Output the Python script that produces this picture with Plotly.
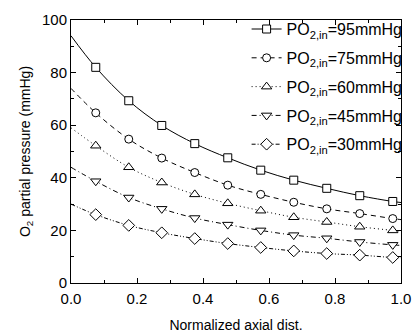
import plotly.graph_objects as go

# marker positions (normalized axial distance)
x_pts = [0.075, 0.175, 0.275, 0.375, 0.475, 0.575, 0.675, 0.775, 0.875, 0.975]

names = ["PO<sub>2,in</sub>=95mmHg", "PO<sub>2,in</sub>=75mmHg", "PO<sub>2,in</sub>=60mmHg",
         "PO<sub>2,in</sub>=45mmHg", "PO<sub>2,in</sub>=30mmHg"]

y95 = [82.0, 69.3, 59.9, 53.0, 47.6, 42.9, 39.1, 36.0, 33.2, 31.0]
y75 = [64.7, 54.7, 47.5, 42.0, 37.2, 33.7, 30.7, 28.2, 26.4, 24.5]
y60 = [52.2, 44.0, 38.2, 33.7, 30.3, 27.5, 25.0, 23.2, 21.4, 20.0]
y45 = [38.7, 32.5, 28.2, 24.7, 22.2, 20.0, 18.2, 17.0, 15.6, 14.5]
y30 = [26.0, 21.9, 19.1, 16.9, 15.0, 13.5, 12.2, 11.2, 10.6, 9.7]

# curve end values at x=0 and x=1
start_vals = [94.0, 74.0, 59.0, 44.0, 30.0]
end_vals = [30.6, 24.1, 19.7, 14.3, 9.6]

series = [y95, y75, y60, y45, y30]
symbols = ["square", "circle", "triangle-up", "triangle-down", "diamond"]
dashes = ["solid", "5px,4px", "1px,3px", "5px,3px,1px,3px", "4px,2px,1px,2px,1px,2px"]
msizes = [8, 8, 9, 9, 9]

FONT = "Liberation Sans, Arial"

fig = go.Figure()

for i, ys in enumerate(series):
    fig.add_trace(go.Scatter(
        x=[0.0] + x_pts + [1.0], y=[start_vals[i]] + ys + [end_vals[i]],
        mode="lines", line=dict(color="black", width=1, dash=dashes[i], shape="spline", smoothing=1.0),
        showlegend=False, hoverinfo="skip"))

for i, ys in enumerate(series):
    fig.add_trace(go.Scatter(
        x=x_pts, y=ys, mode="markers",
        marker=dict(symbol=symbols[i], size=msizes[i], color="white",
                    line=dict(color="black", width=1)),
        showlegend=False))

for i in range(5):
    fig.add_trace(go.Scatter(
        x=[None], y=[None], mode="lines+markers", name=names[i], legendgroup=str(i),
        line=dict(color="black", width=1, dash=dashes[i]),
        marker=dict(symbol=symbols[i], size=msizes[i], color="white",
                    line=dict(color="black", width=1))))

axis_common = dict(showgrid=False, zeroline=False, showline=True, linecolor="black", linewidth=1,
                   mirror="ticks", ticks="inside", ticklen=5, tickcolor="black", automargin=False,
                   tickfont=dict(family=FONT, size=15, color="black"))

fig.update_xaxes(range=[0, 1.0], dtick=0.2, tickformat=".1f",
                 minor=dict(ticks="inside", dtick=0.1, ticklen=3, tickcolor="black"),
                 title=dict(text="Normalized axial dist.", font=dict(family=FONT, size=14, color="black"), standoff=14),
                 ticklabelstandoff=2,
                 **axis_common)
fig.update_yaxes(range=[0, 100], dtick=20,
                 minor=dict(ticks="inside", dtick=10, ticklen=3, tickcolor="black"),
                 title=dict(text="O<sub>2</sub> partial pressure (mmHg)", font=dict(family=FONT, size=14, color="black"), standoff=8),
                 **axis_common)

fig.update_layout(
    width=420, height=335,
    margin=dict(l=71, r=13, t=16, b=52),
    plot_bgcolor="white", paper_bgcolor="white",
    font=dict(family=FONT, color="black"),
    legend=dict(x=1.02, y=1.03, xanchor="right", yanchor="top",
                font=dict(family=FONT, size=16, color="black"),
                bgcolor="rgba(0,0,0,0)", tracegroupgap=5, traceorder="grouped"),
)

fig.write_html("out.html")
